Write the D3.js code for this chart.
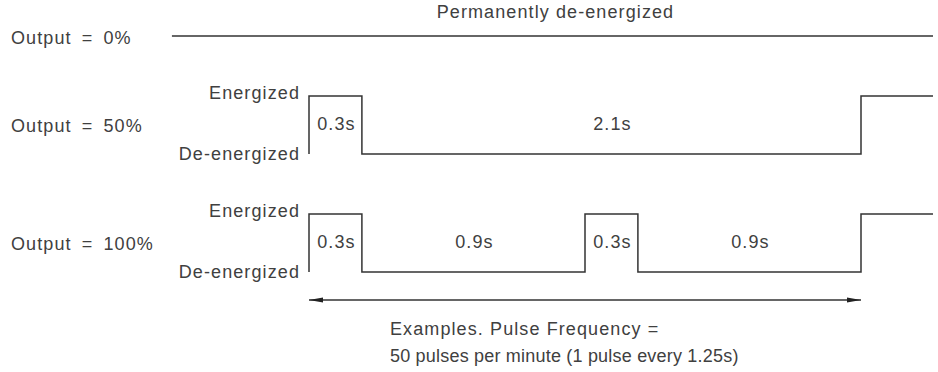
<!DOCTYPE html>
<html>
<head>
<meta charset="utf-8">
<script src="https://cdn.jsdelivr.net/npm/d3@7"></script>
<style>
  html, body { margin: 0; padding: 0; background: #fff; }
  svg { display: block; }
  text { font-family: "Liberation Sans", Arial, sans-serif; font-size: 18px; fill: #404040; letter-spacing: 1.1px; }
  text.rowlab { word-spacing: 4px; }
  text.foot2 { letter-spacing: 0.2px; }
</style>
</head>
<body>
<svg id="chart" width="938" height="372"></svg>
<script>
// ---- data ----
const rowLabels = ["Output = 0%", "Output = 50%", "Output = 100%"];
const stateLabels = ["Energized", "De-energized"];
const topCaption = "Permanently de-energized";

// waveform vertices (time in diagram seconds, level 1 = energized, 0 = de-energized)
const wave0Times = [-0.596, 2.713];
const wave0Levels = [0, 0];
const wave50Times = [0, 0, 0.23, 2.4, 2.713];
const wave50Levels = [0, 1, 0, 1, 1];
const wave100Times = [0, 0, 0.23, 1.2, 1.43, 2.4, 2.713];
const wave100Levels = [0, 1, 0, 1, 0, 1, 1];

// duration labels: start, end, text
const dur50Start = [0, 0.23];
const dur50End = [0.23, 2.4];
const dur50Text = ["0.3s", "2.1s"];
const dur100Start = [0, 0.23, 1.2, 1.43];
const dur100End = [0.23, 1.2, 1.43, 2.4];
const dur100Text = ["0.3s", "0.9s", "0.3s", "0.9s"];

const periodSpan = [0, 2.4];
const footnote = ["Examples. Pulse Frequency =", "50 pulses per minute (1 pulse every 1.25s)"];

// ---- drawing ----
const svg = d3.select("#chart");
const x = d3.scaleLinear().domain([0, 2.4]).range([309, 861]);
const row = d3.scalePoint().domain(rowLabels).range([7, 243]);
const amp = 29;
const lev = (r, l) => row(r) + amp - l * 2 * amp;

const stroke = "#333";
const waves = [
  { r: rowLabels[0], t: wave0Times, l: wave0Levels },
  { r: rowLabels[1], t: wave50Times, l: wave50Levels },
  { r: rowLabels[2], t: wave100Times, l: wave100Levels }
];

waves.forEach(w => {
  const pts = w.t.map((t, i) => [t, w.l[i]]);
  const line = d3.line()
    .x(d => x(d[0]))
    .y(d => lev(w.r, d[1]))
    .curve(d3.curveStepAfter);
  svg.append("path")
    .attr("d", line(pts))
    .attr("fill", "none")
    .attr("stroke", stroke)
    .attr("stroke-width", 1.5);
});

// row labels
svg.selectAll("text.rowlab").data(rowLabels).join("text")
  .attr("class", "rowlab")
  .attr("x", 11)
  .attr("y", (d, i) => i === 0 ? lev(d, 0) + 2 : row(d) + 1)
  .attr("dominant-baseline", "central")
  .text(d => d);

// state labels
[rowLabels[1], rowLabels[2]].forEach(r => {
  svg.append("text").attr("x", 300).attr("y", lev(r, 1) - 3)
    .attr("text-anchor", "end").attr("dominant-baseline", "central").text(stateLabels[0]);
  svg.append("text").attr("x", 300).attr("y", lev(r, 0) + 0)
    .attr("text-anchor", "end").attr("dominant-baseline", "central").text(stateLabels[1]);
});

// caption over 0% line
svg.append("text")
  .attr("x", x((wave0Times[0] + wave0Times[1]) / 2) + 3)
  .attr("y", lev(rowLabels[0], 0) - 24)
  .attr("text-anchor", "middle").attr("dominant-baseline", "central")
  .text(topCaption);

// durations
function durLabels(r, s, e, t) {
  t.forEach((txt, i) => {
    svg.append("text")
      .attr("x", (x(s[i]) + x(e[i])) / 2 + 1)
      .attr("y", row(r) - 1)
      .attr("text-anchor", "middle").attr("dominant-baseline", "central")
      .text(txt);
  });
}
durLabels(rowLabels[1], dur50Start, dur50End, dur50Text);
durLabels(rowLabels[2], dur100Start, dur100End, dur100Text);

// period arrow
const defs = svg.append("defs");
defs.append("marker").attr("id", "ah")
  .attr("viewBox", "0 0 14 6").attr("refX", 14).attr("refY", 3)
  .attr("markerWidth", 14).attr("markerHeight", 6)
  .attr("markerUnits", "userSpaceOnUse")
  .attr("orient", "auto-start-reverse")
  .append("path").attr("d", "M0,0.6 L14,3 L0,5.4 Z").attr("fill", "#222");

const arrowY = row(rowLabels[2]) + 57;
svg.append("line")
  .attr("x1", x(periodSpan[0])).attr("x2", x(periodSpan[1]))
  .attr("y1", arrowY).attr("y2", arrowY)
  .attr("stroke", stroke).attr("stroke-width", 1.3)
  .attr("marker-start", "url(#ah)").attr("marker-end", "url(#ah)");

svg.selectAll("text.foot").data(footnote).join("text")
  .attr("class", (d, i) => "foot foot" + (i + 1))
  .attr("x", 390)
  .attr("y", (d, i) => arrowY + 29 + i * 27)
  .attr("dominant-baseline", "central")
  .text(d => d);
</script>
</body>
</html>
